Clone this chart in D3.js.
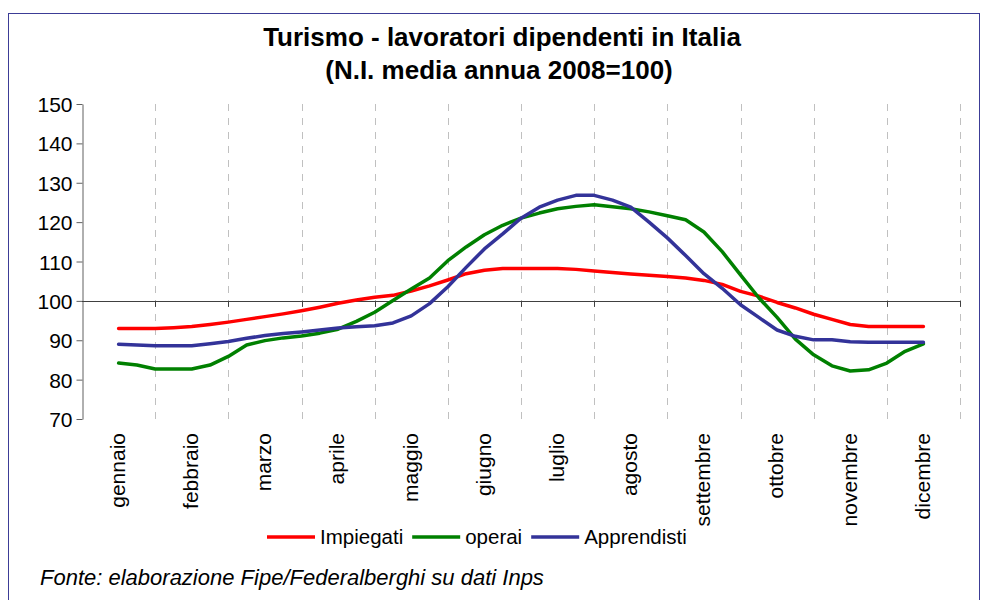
<!DOCTYPE html>
<html>
<head>
<meta charset="utf-8">
<script src="https://cdn.jsdelivr.net/npm/d3@7"></script>
<style>
    body { margin: 0; background: #fff; }
    text { font-family: "Liberation Sans", Arial, sans-serif; fill: #000; }
</style>
</head>
<body>
<div id="chart"></div>
<script>
// mesi sull'asse
var mesi = ["gennaio", "febbraio", "marzo", "aprile", "maggio", "giugno",
    "luglio", "agosto", "settembre", "ottobre", "novembre", "dicembre"]
var yTicks = [70, 80, 90, 100, 110, 120, 130, 140, 150]

// valori letti ogni quarto di mese, da gennaio a dicembre
var impiegati = [93.0, 93.0, 93.0, 93.2, 93.5, 94.0, 94.6, 95.3, 96.0, 96.7, 97.5, 98.4,
    99.4, 100.2, 100.9, 101.4, 102.5, 103.8, 105.3, 106.9, 107.8, 108.2, 108.2, 108.2,
    108.2, 108.0, 107.6, 107.2, 106.8, 106.5, 106.2, 105.8, 105.2, 104.2, 102.4, 101.2,
    99.6, 98.2, 96.6, 95.3, 94.0, 93.5, 93.5, 93.5, 93.5]
var operai = [84.2, 83.7, 82.7, 82.7, 82.7, 83.7, 85.9, 88.8, 89.9, 90.6, 91.1, 91.8,
    92.8, 94.8, 97.1, 100.1, 103.0, 105.8, 110.2, 113.7, 116.8, 119.2, 121.0, 122.3,
    123.4, 124.0, 124.4, 123.9, 123.4, 122.6, 121.6, 120.6, 117.5, 112.5, 106.6, 100.8,
    95.8, 90.3, 86.3, 83.5, 82.2, 82.5, 84.2, 87.2, 89.1]
var apprendisti = [89.0, 88.8, 88.6, 88.6, 88.6, 89.1, 89.7, 90.5, 91.2, 91.7, 92.1, 92.6,
    93.1, 93.4, 93.7, 94.4, 96.2, 99.3, 103.6, 108.5, 113.2, 117.0, 121.0, 123.8,
    125.6, 126.8, 126.8, 125.6, 123.8, 120.0, 116.0, 111.5, 106.9, 103.2, 99.0, 95.8,
    92.6, 91.0, 90.1, 90.1, 89.6, 89.5, 89.5, 89.5, 89.5]

var serie = [
    {name: "Impiegati", values: impiegati, color: "#FF0000"},
    {name: "operai", values: operai, color: "#008000"},
    {name: "Apprendisti", values: apprendisti, color: "#333399"}
]

var width = 981
var height = 600

var svg = d3.select("#chart")
    .append("svg")
        .attr("width", width)
        .attr("height", height)

// cornice
svg.append("rect")
    .attr("x", 8.5)
    .attr("y", 13.5)
    .attr("width", 971)
    .attr("height", 600)
    .attr("fill", "none")
    .attr("stroke", "#3c3c96")
    .attr("stroke-width", 1)

// titolo
svg.append("text")
    .attr("x", 502)
    .attr("y", 46)
    .attr("text-anchor", "middle")
    .style("font-weight", "bold")
    .style("font-size", "26px")
    .text("Turismo - lavoratori dipendenti in Italia")
svg.append("text")
    .attr("x", 499)
    .attr("y", 79)
    .attr("text-anchor", "middle")
    .style("font-weight", "bold")
    .style("font-size", "26px")
    .text("(N.I. media annua 2008=100)")

var x = d3.scaleBand()
    .domain(mesi)
    .range([82, 960])
    .padding(0)

var y = d3.scaleLinear()
    .domain([70, 150])
    .range([419, 104])

var xLine = d3.scaleLinear()
    .domain([0, impiegati.length - 1])
    .range([x(mesi[0]) + x.bandwidth() / 2, x(mesi[mesi.length - 1]) + x.bandwidth() / 2])

// griglia verticale tratteggiata
svg.append("g")
    .selectAll("line")
    .data(mesi)
    .join("line")
        .attr("x1", function(d) { return Math.round(x(d) + x.bandwidth()) + 0.5 })
        .attr("x2", function(d) { return Math.round(x(d) + x.bandwidth()) + 0.5 })
        .attr("y1", y(150))
        .attr("y2", y(70))
        .attr("stroke", "#c0c0c0")
        .attr("stroke-width", 1)
        .attr("stroke-dasharray", "7,7")

// asse y
svg.append("g")
    .attr("transform", "translate(82.5,0)")
    .call(d3.axisLeft(y).tickValues(yTicks).tickSize(6).tickPadding(4).tickSizeOuter(0))
    .call(function(g) { g.select(".domain").attr("stroke", "#606060") })
    .call(function(g) { g.selectAll(".tick line").attr("stroke", "#606060") })
    .call(function(g) {
        g.selectAll(".tick text")
            .style("font-size", "21px")
            .attr("fill", "#000")
            .attr("dy", "0.36em")
    })

// asse delle categorie a quota 100
var asseX = svg.append("g")
asseX.append("line")
    .attr("x1", 82)
    .attr("x2", 960.5)
    .attr("y1", Math.round(y(100)) + 0.5)
    .attr("y2", Math.round(y(100)) + 0.5)
    .attr("stroke", "#404040")
asseX.selectAll(".tk")
    .data(mesi)
    .join("line")
        .attr("class", "tk")
        .attr("x1", function(d) { return Math.round(x(d) + x.bandwidth()) + 0.5 })
        .attr("x2", function(d) { return Math.round(x(d) + x.bandwidth()) + 0.5 })
        .attr("y1", y(100))
        .attr("y2", y(100) + 6)
        .attr("stroke", "#404040")

// etichette dei mesi, ruotate
svg.append("g")
    .selectAll("text")
    .data(mesi)
    .join("text")
        .attr("transform", function(d) {
            return "translate(" + (x(d) + x.bandwidth() / 2) + ",433) rotate(-90)"
        })
        .attr("dy", "0.3em")
        .attr("text-anchor", "end")
        .style("font-size", "21px")
        .text(function(d) { return d })

// linee
var line = d3.line()
    .x(function(d, i) { return xLine(i) })
    .y(function(d) { return y(d) })

svg.append("g")
    .selectAll("path")
    .data(serie)
    .join("path")
        .attr("d", function(d) { return line(d.values) })
        .attr("fill", "none")
        .attr("stroke", function(d) { return d.color })
        .attr("stroke-width", 3.5)
        .attr("stroke-linejoin", "round")
        .attr("stroke-linecap", "round")

// legenda
var legend = svg.append("g")
var lx = 267
serie.forEach(function(s) {
    legend.append("line")
        .attr("x1", lx)
        .attr("x2", lx + 48)
        .attr("y1", 537)
        .attr("y2", 537)
        .attr("stroke", s.color)
        .attr("stroke-width", 3.5)
    var t = legend.append("text")
        .attr("x", lx + 53)
        .attr("y", 544)
        .style("font-size", "20.5px")
        .text(s.name)
    lx = lx + 53 + t.node().getComputedTextLength() + 9
})

// fonte
svg.append("text")
    .attr("x", 40)
    .attr("y", 585)
    .style("font-size", "22px")
    .style("font-style", "italic")
    .text("Fonte: elaborazione Fipe/Federalberghi su dati Inps")
</script>
</body>
</html>
